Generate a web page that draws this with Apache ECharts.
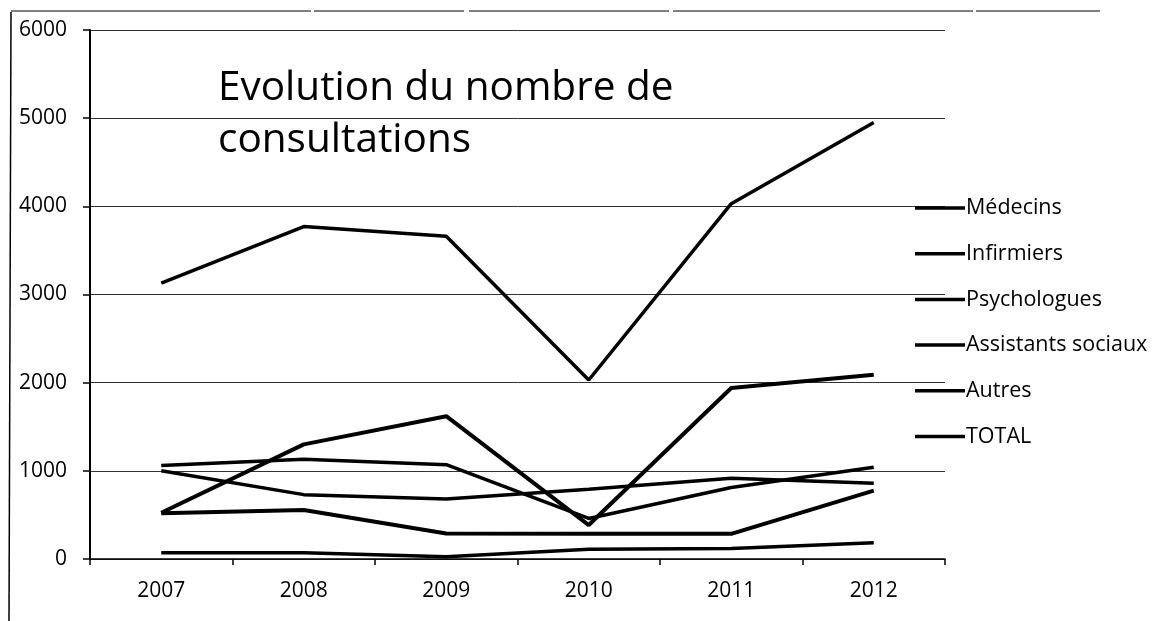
<!DOCTYPE html>
<html lang="fr">
<head>
    <meta charset="utf-8">
    <title>Evolution du nombre de consultations</title>
    <script src="https://cdn.jsdelivr.net/npm/echarts@6/dist/echarts.min.js"></script>
</head>
<body style="margin:0;background:#fff;">
    <div id="main" style="width:1162px;height:621px;"></div>
<script type="text/javascript">
    // annees
    var years = ['2007', '2008', '2009', '2010', '2011', '2012'];

    // valeurs
    var medecins = [525, 1300, 1620, 385, 1940, 2090];
    var infirmiers = [1060, 1130, 1070, 460, 810, 1040];
    var psychologues = [520, 555, 290, 285, 285, 775];
    var assistants = [1000, 730, 680, 790, 915, 860];
    var autres = [72, 72, 26, 110, 120, 185];
    var total = [3130, 3770, 3660, 2030, 4030, 4950];

    var names = ['Médecins', 'Infirmiers', 'Psychologues', 'Assistants sociaux', 'Autres', 'TOTAL'];
    var values = [medecins, infirmiers, psychologues, assistants, autres, total];
    var widths = [4, 3.5, 4, 3.5, 3.5, 3.5];

    var font = '"Open Sans", Lato, sans-serif';

    var series = [];
    for (var i = 0; i < names.length; i++) {
        series.push({
            name: names[i],
            type: 'line',
            data: values[i],
            symbol: 'none',
            animation: false,
            lineStyle: { color: '#000', width: widths[i] },
            itemStyle: { color: '#000' }
        });
    }

    var myChart = echarts.init(document.getElementById('main'));

    var option = {
        backgroundColor: '#fff',
        title: {
            text: 'Evolution du nombre de\nconsultations',
            left: 213,
            top: 57,
            textStyle: {
                fontFamily: font,
                fontSize: 40.5,
                fontWeight: 'normal',
                color: '#000',
                lineHeight: 52
            }
        },
        legend: {
            orient: 'vertical',
            left: 910,
            top: 192,
            itemWidth: 50,
            itemHeight: 3.5,
            itemGap: 23.7,
            icon: 'rect',
            data: names,
            itemStyle: { color: '#000' },
            textStyle: { fontFamily: font, fontSize: 21.5, lineHeight: 21, color: '#000', padding: [0, 0, 0, -4] }
        },
        grid: {
            left: 90,
            right: 217,
            top: 30,
            bottom: 62
        },
        xAxis: {
            type: 'category',
            data: years,
            boundaryGap: true,
            axisLine: { lineStyle: { color: '#000', width: 1.5 } },
            axisTick: { show: true, length: 6, inside: false, lineStyle: { color: '#000', width: 1.5 } },
            axisLabel: { fontFamily: font, fontSize: 21, color: '#000', margin: 22 },
            splitLine: { show: false }
        },
        yAxis: {
            type: 'value',
            min: 0,
            max: 6000,
            interval: 1000,
            axisLine: { show: true, lineStyle: { color: '#000', width: 2 } },
            axisTick: { show: true, length: 7, lineStyle: { color: '#000', width: 1.5 } },
            axisLabel: {
                fontFamily: font, fontSize: 21, color: '#000', margin: 23,
                formatter: function (v) { return String(v); }
            },
            splitLine: { show: true, lineStyle: { color: '#333', width: 1 } }
        },
        graphic: [
            {
                type: 'line',
                shape: { x1: 11, y1: 12, x2: 9, y2: 621 },
                style: { stroke: '#000', lineWidth: 1.5 }
            },
            {
                type: 'line',
                shape: { x1: 11, y1: 11, x2: 1100, y2: 11 },
                style: { stroke: '#000', lineWidth: 1, lineDash: [300, 3, 150, 5, 200, 4] }
            }
        ],
        series: series
    };

    myChart.setOption(option);
</script>
</body>
</html>
